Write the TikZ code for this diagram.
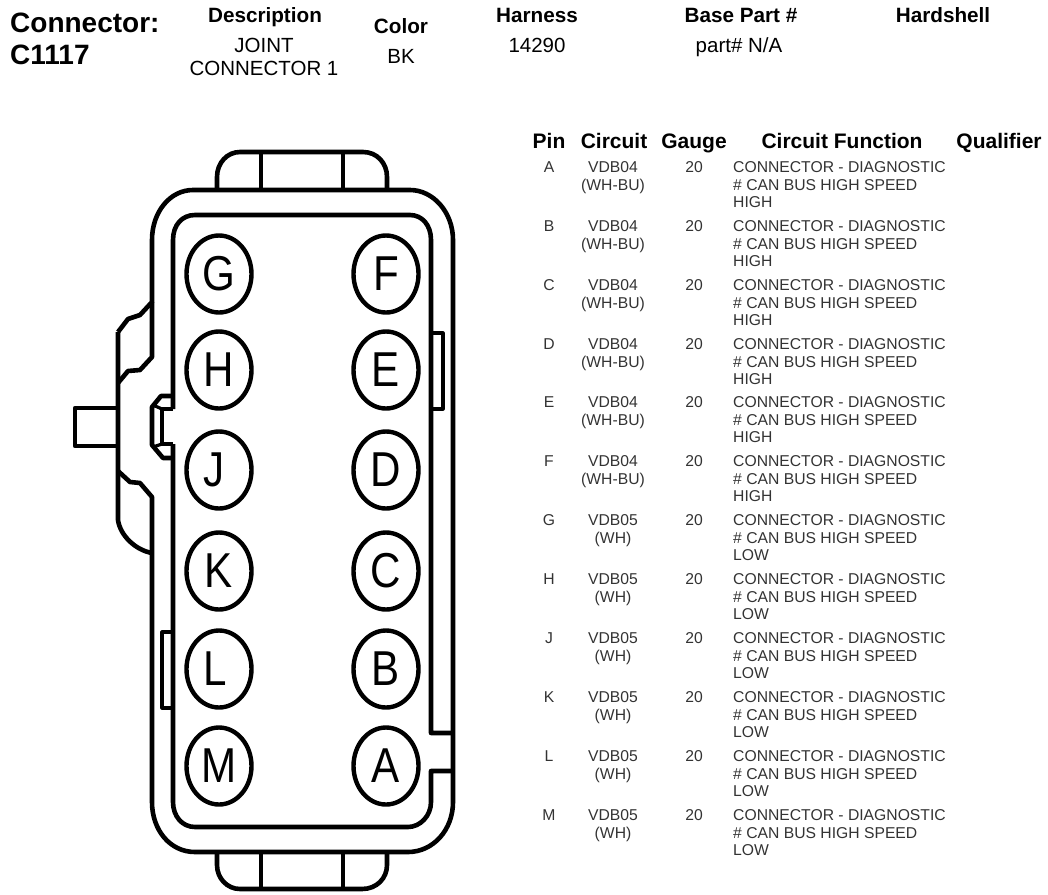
\documentclass[tikz,border=0pt]{standalone}
\usepackage{fontspec}
\setmainfont{Liberation Sans}
\newfontfamily\pinfont[FakeStretch=0.86]{Liberation Sans}
\usetikzlibrary{shapes.geometric}

\newcommand{\funchigh}{CONNECTOR - DIAGNOSTIC\\\# CAN BUS HIGH SPEED\\HIGH}
\newcommand{\funclow}{CONNECTOR - DIAGNOSTIC\\\# CAN BUS HIGH SPEED\\LOW}
\newcommand{\wirehigh}{VDB04\\(WH-BU)}
\newcommand{\wirelow}{VDB05\\(WH)}

\tikzset{
	wall/.style={line width=4.6pt, line join=round},
	thinwall/.style={line width=3.2pt, line join=round},
	pinhole/.style={ellipse, draw, line width=4.4pt, minimum width=65pt, minimum height=77pt, inner sep=0pt, font=\pinfont\fontsize{49}{49}\selectfont},
	bighead/.style={anchor=base west, inner sep=0pt, font=\fontsize{28}{28}\selectfont\bfseries},
	head/.style={anchor=base, inner sep=0pt, font=\fontsize{20.7}{20.7}\selectfont\bfseries},
	tablehead/.style={head, font=\fontsize{21}{21}\selectfont\bfseries},
	headval/.style={anchor=base, inner sep=0pt, font=\fontsize{20.5}{23}\selectfont, align=center},
	cell/.style={anchor=north, inner sep=0pt, text=black!80, yshift=-0.5pt, font=\fontsize{15.7}{17.6}\selectfont, align=center},
	funccell/.style={cell, anchor=north west, align=left}
}

\begin{document}
\begin{tikzpicture}[x=1pt, y=-1pt]
	\useasboundingbox (0,0) rectangle (1048,894);

	% title block
	\node[bighead] (conn) at (10,32) {Connector:};
	\node[bighead] (c1117) at (10,64) {C1117};
	\node[head] (desc) at (265,22) {Description};
	\node[headval] (joint) at (264,52) {JOINT};
	\node[headval] (joint2) at (264,75) {CONNECTOR 1};
	\node[head] (color) at (401,33) {Color};
	\node[headval] (bk) at (401,63) {BK};
	\node[head] (harness) at (537,22) {Harness};
	\node[headval] (harnessno) at (537,52) {14290};
	\node[head] (base) at (741,22) {Base Part \#};
	\node[headval] (partno) at (739,52) {part\# N/A};
	\node[head] (shell) at (943,22) {Hardshell};

	% outer wall
	\draw[wall] (118,332) -- (128,319) -- (140,315) -- (152,302) -- (152,240)
		.. controls (152,212) and (170,190) .. (193,190) -- (410,190)
		.. controls (433,190) and (453,212) .. (453,240) -- (453,802)
		.. controls (453,830) and (433,852) .. (408,852) -- (195,852)
		.. controls (170,852) and (152,830) .. (152,802) -- (152,497)
		-- (140,483) -- (130,482) -- (118,471);
	\draw[wall] (118,332) -- (118,520) .. controls (120,535) and (135,550) .. (152,553);
	\draw[wall] (152,302) -- (152,357) -- (140,370) -- (128,371) -- (118,383);
	% stub on the left
	\draw[wall] (118,408) -- (75,408) -- (75,446) -- (118,446);

	% inner wall
	\draw[wall] (173,409) -- (173,240) .. controls (173,225) and (182,215) .. (195,215)
		-- (410,215) .. controls (422,215) and (431,225) .. (431,240) -- (431,733) -- (453,733);
	\draw[wall] (453,771) -- (431,771) -- (431,802) .. controls (431,816) and (420,827) .. (408,827)
		-- (195,827) .. controls (182,827) and (173,816) .. (173,802) -- (173,444);
	% latch
	\draw[wall] (173,396) -- (161,396) -- (152,407) -- (152,445) -- (163,458) -- (173,458);
	\draw[wall] (173,409) -- (162,409) -- (162,444) -- (173,444);
	\draw[thinwall] (162,409) -- (153,405);
	\draw[thinwall] (162,444) -- (153,447);
	% small ribs
	\draw[thinwall] (431,333) -- (443,333) -- (443,409) -- (431,409);
	\draw[thinwall] (173,632) -- (162,632) -- (162,708) -- (173,708);

	% top tab
	\draw[wall] (217,190) -- (217,177) .. controls (217,163) and (227,152) .. (240,152) -- (363,152)
		.. controls (377,152) and (387,163) .. (387,177) -- (387,190);
	\draw[wall] (261,152) -- (261,190);
	\draw[wall] (343,152) -- (343,190);
	% bottom tab
	\draw[wall] (217,852) -- (217,865) .. controls (217,878) and (227,889) .. (240,889) -- (362,889)
		.. controls (377,889) and (387,878) .. (387,865) -- (387,852);
	\draw[wall] (261,852) -- (261,889);
	\draw[wall] (343,852) -- (343,889);

	% pin holes
	\node[pinhole] (G) at (219,274) {G};
	\node[pinhole] (H) at (219,370) {H};
	\node[pinhole] (J) at (219,470) {J\hspace*{9pt}};
	\node[pinhole] (K) at (219,571) {K};
	\node[pinhole] (L) at (219,669) {L\hspace*{8pt}};
	\node[pinhole] (M) at (219,766) {M};
	\node[pinhole] (F) at (386,274) {F};
	\node[pinhole] (E) at (386,370) {E};
	\node[pinhole] (D) at (386,470) {D};
	\node[pinhole] (C) at (386,571) {C};
	\node[pinhole] (B) at (386,669) {B};
	\node[pinhole] (A) at (386,766) {A};

	% table head
	\node[tablehead] (pin) at (549,148) {Pin};
	\node[tablehead] (circuit) at (614,148) {Circuit};
	\node[tablehead] (gauge) at (694,148) {Gauge};
	\node[tablehead] (function) at (842,148) {Circuit Function};
	\node[tablehead] (qualifier) at (999,148) {Qualifier};

	% table rows
	\node[cell] (pinA) at (549,161) {A};
	\node[cell] (wireA) at (613,161) {\wirehigh};
	\node[cell] (gaugeA) at (694,161) {20};
	\node[funccell] (funcA) at (733,161) {\funchigh};
	\node[cell] (pinB) at (549,220) {B};
	\node[cell] (wireB) at (613,220) {\wirehigh};
	\node[cell] (gaugeB) at (694,220) {20};
	\node[funccell] (funcB) at (733,220) {\funchigh};
	\node[cell] (pinC) at (549,279) {C};
	\node[cell] (wireC) at (613,279) {\wirehigh};
	\node[cell] (gaugeC) at (694,279) {20};
	\node[funccell] (funcC) at (733,279) {\funchigh};
	\node[cell] (pinD) at (549,338) {D};
	\node[cell] (wireD) at (613,338) {\wirehigh};
	\node[cell] (gaugeD) at (694,338) {20};
	\node[funccell] (funcD) at (733,338) {\funchigh};
	\node[cell] (pinE) at (549,396) {E};
	\node[cell] (wireE) at (613,396) {\wirehigh};
	\node[cell] (gaugeE) at (694,396) {20};
	\node[funccell] (funcE) at (733,396) {\funchigh};
	\node[cell] (pinF) at (549,455) {F};
	\node[cell] (wireF) at (613,455) {\wirehigh};
	\node[cell] (gaugeF) at (694,455) {20};
	\node[funccell] (funcF) at (733,455) {\funchigh};
	\node[cell] (pinG) at (549,514) {G};
	\node[cell] (wireG) at (613,514) {\wirelow};
	\node[cell] (gaugeG) at (694,514) {20};
	\node[funccell] (funcG) at (733,514) {\funclow};
	\node[cell] (pinH) at (549,573) {H};
	\node[cell] (wireH) at (613,573) {\wirelow};
	\node[cell] (gaugeH) at (694,573) {20};
	\node[funccell] (funcH) at (733,573) {\funclow};
	\node[cell] (pinJ) at (549,632) {J};
	\node[cell] (wireJ) at (613,632) {\wirelow};
	\node[cell] (gaugeJ) at (694,632) {20};
	\node[funccell] (funcJ) at (733,632) {\funclow};
	\node[cell] (pinK) at (549,691) {K};
	\node[cell] (wireK) at (613,691) {\wirelow};
	\node[cell] (gaugeK) at (694,691) {20};
	\node[funccell] (funcK) at (733,691) {\funclow};
	\node[cell] (pinL) at (549,750) {L};
	\node[cell] (wireL) at (613,750) {\wirelow};
	\node[cell] (gaugeL) at (694,750) {20};
	\node[funccell] (funcL) at (733,750) {\funclow};
	\node[cell] (pinM) at (549,809) {M};
	\node[cell] (wireM) at (613,809) {\wirelow};
	\node[cell] (gaugeM) at (694,809) {20};
	\node[funccell] (funcM) at (733,809) {\funclow};
\end{tikzpicture}
\end{document}
